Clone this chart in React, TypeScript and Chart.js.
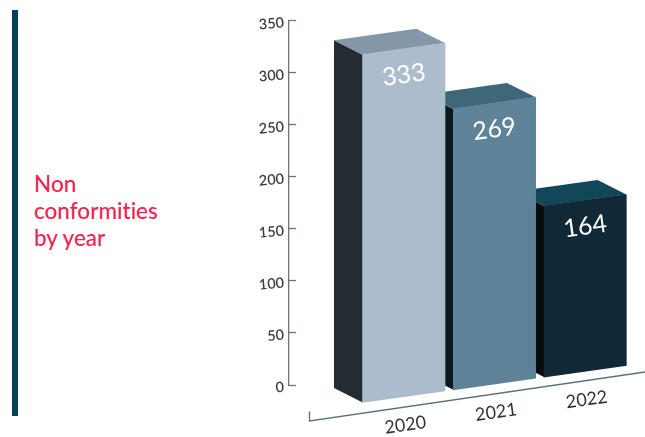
import React, { useEffect, useRef } from "react";
import { Chart, BarController, BarElement, CategoryScale, LinearScale } from "chart.js";

const years = ["2020", "2021", "2022"];
const nonConformities = [333, 269, 164];
const heading = ["Non", "conformities", "by year"];

const frontColors = ["#adbccd", "#5e8297", "#112837"];
const topColors = ["#8497a8", "#3f677a", "#124659"];
const sideColors = ["#232c32", "#0a191f", "#090b0d"];

// Oblique projection of the chart plane: the floor rises to the right.
const SLOPE = 0.14;
const Y_STRETCH = 1.005;
const SHIFT_X = 69.5;
const SHIFT_Y = 57.1;
const TEXT_TILT = -Math.atan(SLOPE);
// Offset of a bar's rear edge from its front edge, in projected units.
const DEPTH_X = -28.7;
const DEPTH_Y = -18.4;

const project = (ctx: CanvasRenderingContext2D) =>
  ctx.transform(1, -SLOPE, 0, Y_STRETCH, SHIFT_X, SHIFT_Y);

const projectPoint = (x: number, y: number): [number, number] => [
  x + SHIFT_X,
  -SLOPE * x + Y_STRETCH * y + SHIFT_Y,
];

class FloorCategoryScale extends CategoryScale {
  static id = "floorCategory";
  static defaults = CategoryScale.defaults;

  // Tick labels follow the floor by rotating, so the digits are not sheared.
  getLabelItems(area: any) {
    return super.getLabelItems(area).map((item: any) => ({
      ...item,
      options: {
        ...item.options,
        rotation: TEXT_TILT,
        translation: projectPoint(item.options.translation[0], item.options.translation[1]),
      },
    }));
  }

  drawBorder() {
    const ctx = this.ctx;
    const y = this.chart.chartArea.bottom;
    const start = this.left - 49;
    const end = this.right + 15;
    ctx.save();
    project(ctx);
    ctx.strokeStyle = "#5b6f7b";
    ctx.lineWidth = 1.3;
    ctx.beginPath();
    ctx.moveTo(start, y + 1);
    ctx.lineTo(start, y + 10.5);
    ctx.lineTo(end, y + 8.5);
    ctx.stroke();
    ctx.restore();
  }
}

class OffsetLinearScale extends LinearScale {
  static id = "offsetLinear";
  static defaults = LinearScale.defaults;

  drawLabels(area: any) {
    const ctx = this.ctx;
    ctx.save();
    ctx.translate(0, 2);
    super.drawLabels(area);
    ctx.restore();
  }
}

const prismBars = {
  id: "prismBars",
  beforeDatasetDraw(chart: any, args: any) {
    const ctx: CanvasRenderingContext2D = chart.ctx;
    const bars = args.meta.data;
    const polygon = (color: string, points: number[][]) => {
      ctx.fillStyle = color;
      ctx.beginPath();
      points.forEach(([x, y], i) => (i ? ctx.lineTo(x, y) : ctx.moveTo(x, y)));
      ctx.closePath();
      ctx.fill();
    };
    // Painted right to left so that nearer bars cover the rear of farther ones.
    for (let i = bars.length - 1; i >= 0; i--) {
      const bar = bars[i];
      const left = bar.x - bar.width / 2;
      const right = bar.x + bar.width / 2;
      ctx.save();
      project(ctx);
      polygon(sideColors[i], [
        [left, bar.y],
        [left + DEPTH_X, bar.y + DEPTH_Y],
        [left + DEPTH_X, bar.base + DEPTH_Y],
        [left, bar.base],
      ]);
      polygon(topColors[i], [
        [left, bar.y],
        [right, bar.y],
        [right + DEPTH_X, bar.y + DEPTH_Y],
        [left + DEPTH_X, bar.y + DEPTH_Y],
      ]);
      bar.draw(ctx);
      ctx.restore();

      const [labelX, labelY] = projectPoint(bar.x, bar.y + 26);
      ctx.save();
      ctx.translate(labelX, labelY);
      ctx.rotate(TEXT_TILT);
      ctx.fillStyle = "#ffffff";
      ctx.font = "25px Lato";
      ctx.textAlign = "center";
      ctx.textBaseline = "middle";
      ctx.fillText(String(nonConformities[i]), 0, 0);
      ctx.restore();
    }
    return false;
  },
};

Chart.register(BarController, BarElement, FloorCategoryScale, OffsetLinearScale);

export default function App() {
  const canvasRef = useRef<HTMLCanvasElement>(null);

  useEffect(() => {
    const chart = new Chart(canvasRef.current!, {
      type: "bar",
      data: {
        labels: years,
        datasets: [
          {
            data: nonConformities,
            backgroundColor: frontColors,
            borderWidth: 0,
            barThickness: 82.3,
          },
        ],
      },
      options: {
        animation: false,
        responsive: false,
        layout: { padding: { top: 19.3, right: 84, left: 0, bottom: 0 } },
        plugins: { legend: { display: false }, tooltip: { enabled: false } },
        scales: {
          x: {
            type: "floorCategory",
            afterFit: (scale: any) => {
              scale.height = 52;
            },
            grid: { display: false, drawTicks: false },
            ticks: {
              padding: 17,
              maxRotation: 0,
              autoSkip: false,
              color: "#2f3438",
              font: { family: "Lato", size: 18 },
            },
          },
          y: {
            type: "offsetLinear",
            min: 0,
            max: 350,
            afterFit: (scale: any) => {
              scale.width = 289;
            },
            border: { color: "#6f7478", width: 1.3 },
            grid: { drawOnChartArea: false, tickLength: -7, tickColor: "#6f7478", tickWidth: 1.3 },
            ticks: {
              stepSize: 50,
              padding: 12,
              minRotation: 5,
              maxRotation: 5,
              color: "#3b4046",
              font: { family: "Lato", size: 14.5, weight: 600 },
            },
          },
        },
      } as any,
      plugins: [prismBars],
    });
    return () => chart.destroy();
  }, []);

  return (
    <div style={{ position: "fixed", left: 0, top: 0, width: 645, height: 437, background: "#ffffff" }}>
      <div style={{ position: "absolute", left: 12, top: 10, width: 6, height: 406, background: "#03425a" }} />
      <div
        style={{
          position: "absolute",
          left: 34,
          top: 170,
          color: "#ee2452",
          font: "500 22.5px/27px Lato",
          fontVariantLigatures: "none",
        }}
      >
        {heading.map((line) => (
          <div key={line}>{line}</div>
        ))}
      </div>
      <canvas ref={canvasRef} width={645} height={437} style={{ position: "absolute", left: 0, top: 0 }} />
    </div>
  );
}
